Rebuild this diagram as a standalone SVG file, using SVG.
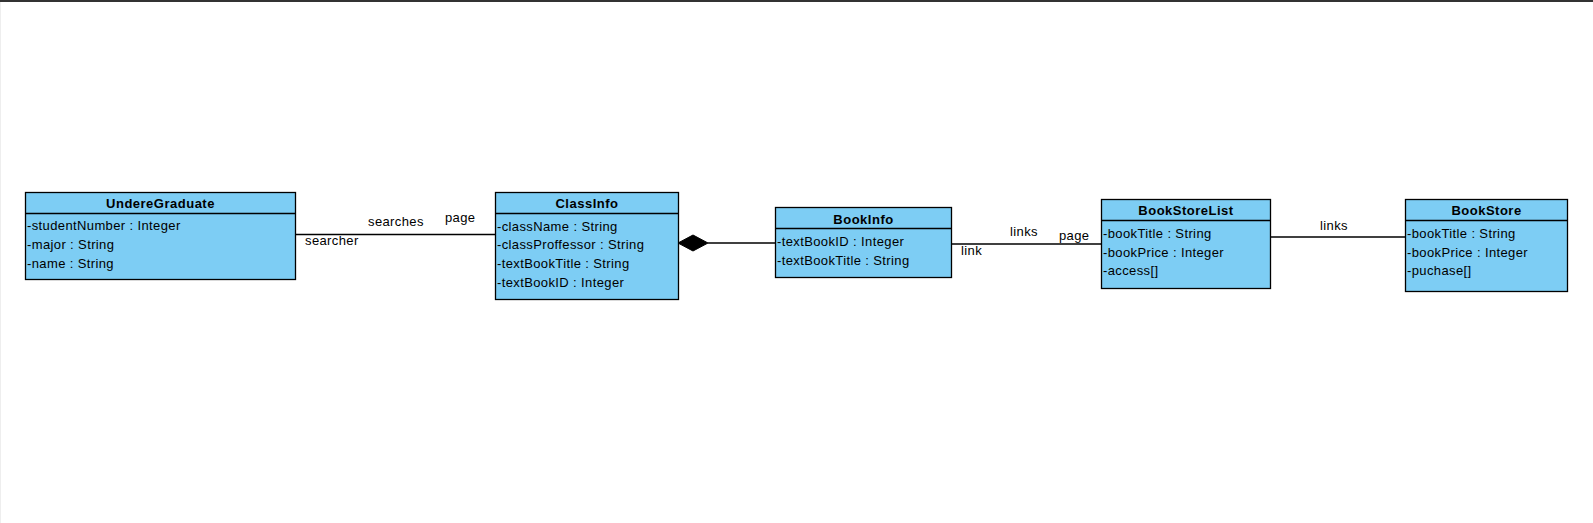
<svg xmlns="http://www.w3.org/2000/svg" width="1593" height="523" viewBox="0 0 1593 523">
<style>
.box{fill:#7dcdf4;stroke:#000;stroke-width:1.3}
.sep{stroke:#000;stroke-width:1.3}
.t{font-family:"Liberation Sans",Arial,sans-serif;font-size:13px;letter-spacing:0.38px;fill:#000}
.h{font-family:"Liberation Sans",Arial,sans-serif;font-size:13px;font-weight:bold;letter-spacing:0.5px;fill:#000;text-anchor:middle}
.c{stroke:#000;stroke-width:1.3;fill:none}
</style>
<rect x="0" y="0" width="1593" height="523" fill="#fff"/>
<line x1="0" y1="1" x2="1593" y2="1" stroke="#333" stroke-width="2"/>
<line x1="0.5" y1="2" x2="0.5" y2="523" stroke="#eee" stroke-width="1"/>

<g id="connectors">
  <line class="c" x1="296" y1="234.5" x2="495" y2="234.5"/>
  <text class="t" x="368" y="226">searches</text>
  <text class="t" x="445" y="222">page</text>
  <text class="t" x="305" y="245">searcher</text>

  <line class="c" x1="708" y1="243" x2="775" y2="243"/>
  <polygon points="678,243 693,235 708,243 693,251" fill="#000" stroke="#000" stroke-width="1"/>

  <line class="c" x1="951" y1="244" x2="1101" y2="244"/>
  <text class="t" x="1010" y="236">links</text>
  <text class="t" x="1059" y="240">page</text>
  <text class="t" x="961" y="255">link</text>

  <line class="c" x1="1270" y1="237" x2="1405" y2="237"/>
  <text class="t" x="1320" y="230">links</text>
</g>

<g id="UndereGraduate">
  <rect class="box" x="25.5" y="192.5" width="270" height="87"/>
  <line class="sep" x1="25.5" y1="213.5" x2="295.5" y2="213.5"/>
  <text class="h" x="160.5" y="208">UndereGraduate</text>
  <text class="t" x="27" y="230">-studentNumber : Integer</text>
  <text class="t" x="27" y="249">-major : String</text>
  <text class="t" x="27" y="268">-name : String</text>
</g>

<g id="ClassInfo">
  <rect class="box" x="495.5" y="192.5" width="183" height="107"/>
  <line class="sep" x1="495.5" y1="213.5" x2="678.5" y2="213.5"/>
  <text class="h" x="587" y="208">ClassInfo</text>
  <text class="t" x="497" y="230.5">-className : String</text>
  <text class="t" x="497" y="249">-classProffessor : String</text>
  <text class="t" x="497" y="268">-textBookTitle : String</text>
  <text class="t" x="497" y="286.5">-textBookID : Integer</text>
</g>

<g id="BookInfo">
  <rect class="box" x="775.5" y="207.5" width="176" height="70"/>
  <line class="sep" x1="775.5" y1="228.5" x2="951.5" y2="228.5"/>
  <text class="h" x="863.5" y="223.5">BookInfo</text>
  <text class="t" x="777" y="246">-textBookID : Integer</text>
  <text class="t" x="777" y="264.5">-textBookTitle : String</text>
</g>

<g id="BookStoreList">
  <rect class="box" x="1101.5" y="199.5" width="169" height="89"/>
  <line class="sep" x1="1101.5" y1="220.5" x2="1270.5" y2="220.5"/>
  <text class="h" x="1186" y="215">BookStoreList</text>
  <text class="t" x="1103" y="238">-bookTitle : String</text>
  <text class="t" x="1103" y="256.5">-bookPrice : Integer</text>
  <text class="t" x="1103" y="275">-access[]</text>
</g>

<g id="BookStore">
  <rect class="box" x="1405.5" y="199.5" width="162" height="92"/>
  <line class="sep" x1="1405.5" y1="220.5" x2="1567.5" y2="220.5"/>
  <text class="h" x="1486.5" y="215">BookStore</text>
  <text class="t" x="1407" y="238">-bookTitle : String</text>
  <text class="t" x="1407" y="256.5">-bookPrice : Integer</text>
  <text class="t" x="1407" y="275">-puchase[]</text>
</g>
</svg>
